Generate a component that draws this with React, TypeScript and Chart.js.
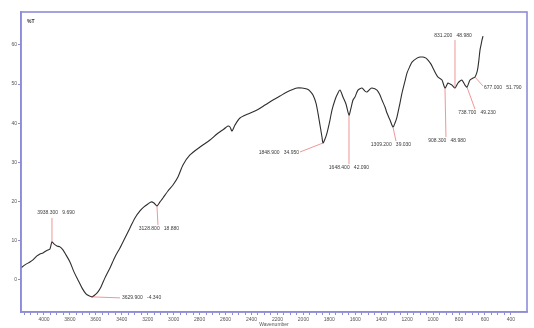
import React, { useEffect, useRef } from "react";
import { Chart, registerables } from "chart.js";

Chart.register(...registerables);

// IR spectrum, wavenumber (cm-1) vs %T
const wavenumbers = [
  4177.3, 4146.5, 4107.9, 4084.8, 4054.0, 4030.8, 4007.7, 3984.6, 3969.2, 3953.7,
  3938.3, 3922.9, 3899.8, 3876.6, 3853.5, 3830.4, 3799.5, 3768.7, 3737.9, 3707.0,
  3676.2, 3653.0, 3629.9, 3606.8, 3583.7, 3560.5, 3529.7, 3491.1, 3452.6, 3414.0,
  3375.5, 3336.9, 3298.4, 3259.8, 3229.0, 3198.2, 3175.0, 3151.9, 3128.8, 3105.6,
  3082.5, 3044.0, 3005.4, 2966.9, 2928.3, 2874.3, 2797.2, 2720.1, 2666.2, 2612.2,
  2581.4, 2565.9, 2550.5, 2527.4, 2488.8, 2427.2, 2357.8, 2296.1, 2234.4, 2180.4,
  2126.5, 2049.4, 2010.8, 1972.3, 1949.1, 1926.0, 1902.9, 1887.5, 1872.0, 1856.6,
  1848.9, 1833.5, 1818.1, 1794.9, 1779.5, 1756.4, 1741.0, 1717.8, 1694.7, 1671.6,
  1648.4, 1633.0, 1617.6, 1602.2, 1579.1, 1548.2, 1525.1, 1509.7, 1486.5, 1471.1,
  1432.6, 1409.4, 1394.0, 1370.9, 1355.5, 1332.3, 1309.2, 1293.8, 1278.4, 1255.2,
  1239.8, 1216.7, 1201.3, 1178.1, 1162.7, 1124.2, 1101.0, 1077.9, 1054.8, 1039.4,
  1016.2, 1000.8, 977.7, 962.3, 931.4, 908.3, 885.2, 869.7, 854.3, 831.2,
  808.1, 792.6, 777.2, 754.1, 738.7, 715.5, 692.4, 677.0, 661.6, 653.9,
  646.1, 638.4, 630.7, 623.0, 615.3,
];

const transmittance = [
  3.06, 3.83, 4.59, 5.10, 6.12, 6.63, 6.89, 7.40, 7.65, 7.91,
  9.69, 9.18, 8.67, 8.42, 7.65, 6.38, 4.59, 2.04, 0.0, -2.04,
  -3.57, -4.08, -4.34, -3.83, -3.06, -1.79, 0.51, 3.06, 5.87, 8.16,
  10.71, 13.27, 15.82, 17.60, 18.62, 19.39, 19.90, 19.64, 18.88, 19.90,
  20.92, 22.70, 24.23, 26.28, 29.34, 31.89, 33.93, 35.71, 37.24, 38.52,
  39.29, 39.03, 38.01, 39.54, 41.33, 42.35, 43.37, 44.64, 45.92, 46.94,
  47.96, 48.98, 48.98, 48.72, 48.21, 47.19, 45.15, 42.60, 39.54, 36.48,
  34.95, 35.97, 37.50, 40.82, 43.37, 45.92, 47.19, 48.47, 46.68, 44.90,
  42.09, 43.88, 45.92, 46.68, 48.47, 48.98, 48.21, 47.96, 48.72, 48.98,
  48.47, 47.19, 45.92, 44.13, 42.60, 40.82, 39.03, 40.05, 41.58, 45.15,
  47.70, 50.77, 52.81, 54.59, 55.61, 56.63, 56.89, 56.89, 56.63, 56.12,
  55.10, 54.08, 52.55, 51.79, 51.02, 48.98, 50.26, 50.00, 49.74, 48.98,
  50.26, 50.77, 51.02, 49.74, 49.23, 51.02, 51.53, 51.79, 53.06, 54.34,
  56.38, 58.67, 59.95, 61.22, 62.24,
];

// Picked peaks (wavenumber, %T)
const peakWavenumbers = [3938.3, 3128.8, 3629.9, 1848.9, 1648.4, 1309.2, 908.3, 831.2, 738.7, 677.0];
const peakValues = [9.69, 18.88, -4.34, 34.95, 42.09, 39.03, 48.98, 48.98, 49.23, 51.79];

// Leader line end and label placement for each peak, in pixels from the peak
const peakLabelLayout = [
  { lx: 0, ly: -24, tx: 4, ty: -29, align: "center" },
  { lx: 1, ly: 19, tx: 2, ty: 23, align: "center" },
  { lx: 28, ly: 1, tx: 30, ty: 1, align: "left" },
  { lx: -23, ly: 9, tx: -24, ty: 10, align: "right" },
  { lx: 0, ly: 49, tx: 0, ty: 53, align: "center" },
  { lx: 3, ly: 14, tx: -2, ty: 18, align: "center" },
  { lx: 1, ly: 49, tx: 2, ty: 53, align: "center" },
  { lx: 0, ly: -48, tx: -2, ty: -52, align: "center" },
  { lx: 8, ly: 22, tx: 10, ty: 26, align: "center" },
  { lx: 8, ly: 9, tx: 9, ty: 11, align: "left" },
];

const X_MIN = 276;
const X_MAX = 4177;
const Y_MIN = -8.2;
const Y_MAX = 68.4;

const FRAME = "#8c8cd8";
const FONT = "'Liberation Sans', Arial, sans-serif";

const framePlugin = {
  id: "frameAndPeaks",
  afterDraw(chart: any) {
    const { ctx, chartArea, scales } = chart;
    ctx.save();
    // plot frame
    ctx.strokeStyle = FRAME;
    ctx.lineWidth = 1.6;
    ctx.strokeRect(chartArea.left, chartArea.top, chartArea.right - chartArea.left, chartArea.bottom - chartArea.top);

    // y unit label
    ctx.fillStyle = "#333";
    ctx.font = `bold 5px ${FONT}`;
    ctx.textAlign = "left";
    ctx.textBaseline = "middle";
    ctx.fillText("%T", chartArea.left + 6, chartArea.top + 10);

    // peak annotations
    ctx.font = `5px ${FONT}`;
    peakWavenumbers.forEach((wn, i) => {
      const v = peakValues[i];
      const lay = peakLabelLayout[i];
      const px = scales.x.getPixelForValue(wn);
      const py = scales.y.getPixelForValue(v);
      ctx.strokeStyle = "rgba(225,80,80,0.75)";
      ctx.lineWidth = 0.8;
      ctx.beginPath();
      ctx.moveTo(px, py);
      ctx.lineTo(px + lay.lx, py + lay.ly);
      ctx.stroke();
      ctx.fillStyle = "#3a3a3a";
      ctx.textAlign = lay.align;
      ctx.textBaseline = "middle";
      ctx.fillText(`${wn.toFixed(3)}   ${v.toFixed(3)}`, px + lay.tx, py + lay.ty);
    });
    ctx.restore();
  },
};

export default function App() {
  const canvasRef = useRef<HTMLCanvasElement | null>(null);

  useEffect(() => {
    const canvas = canvasRef.current;
    if (!canvas) return;
    const points = wavenumbers.map((x, i) => ({ x, y: transmittance[i] }));
    const chart = new Chart(canvas, {
      type: "line",
      data: {
        datasets: [
          {
            data: points,
            borderColor: "#2e2e2e",
            borderWidth: 1.1,
            pointRadius: 0,
            tension: 0.25,
            fill: false,
          },
        ],
      },
      options: {
        animation: false,
        responsive: false,
        maintainAspectRatio: false,
        layout: { padding: { top: 12, right: 7, left: 0, bottom: 0 } },
        plugins: { legend: { display: false }, tooltip: { enabled: false } },
        scales: {
          x: {
            type: "linear",
            reverse: true,
            min: X_MIN,
            max: X_MAX,
            afterBuildTicks: (scale: any) => {
              const ticks = [];
              for (let v = 400; v <= 4150; v += 50) ticks.push({ value: v });
              scale.ticks = ticks;
            },
            afterFit: (scale: any) => {
              scale.height = 16;
            },
            ticks: {
              autoSkip: false,
              maxRotation: 0,
              padding: 2,
              color: "#555",
              font: { size: 5, family: FONT },
              callback: (v: any) => (Number(v) % 200 === 0 && Number(v) <= 4000 ? String(v) : ""),
            },
            grid: {
              drawOnChartArea: false,
              tickLength: 3,
              color: FRAME,
            },
            border: { color: FRAME, width: 1.6 },
            title: {
              display: true,
              text: "Wavenumber",
              color: "#555",
              font: { size: 5, family: FONT },
              padding: 0,
            },
          },
          y: {
            type: "linear",
            min: Y_MIN,
            max: Y_MAX,
            afterBuildTicks: (scale: any) => {
              const ticks = [];
              for (let v = 0; v <= 60; v += 10) ticks.push({ value: v });
              scale.ticks = ticks;
            },
            afterFit: (scale: any) => {
              scale.width = 21;
            },
            ticks: {
              padding: 1,
              color: "#555",
              font: { size: 5, family: FONT },
            },
            grid: {
              drawOnChartArea: false,
              tickLength: 3,
              color: FRAME,
            },
            border: { color: FRAME, width: 1.6 },
          },
        },
      },
      plugins: [framePlugin],
    });
    return () => chart.destroy();
  }, []);

  return (
    <div style={{ position: "fixed", left: 0, top: 0, width: 534, height: 328, background: "#fffffb" }}>
      <canvas ref={canvasRef} width={534} height={328} style={{ display: "block", background: "#ffffff" }} />
    </div>
  );
}
